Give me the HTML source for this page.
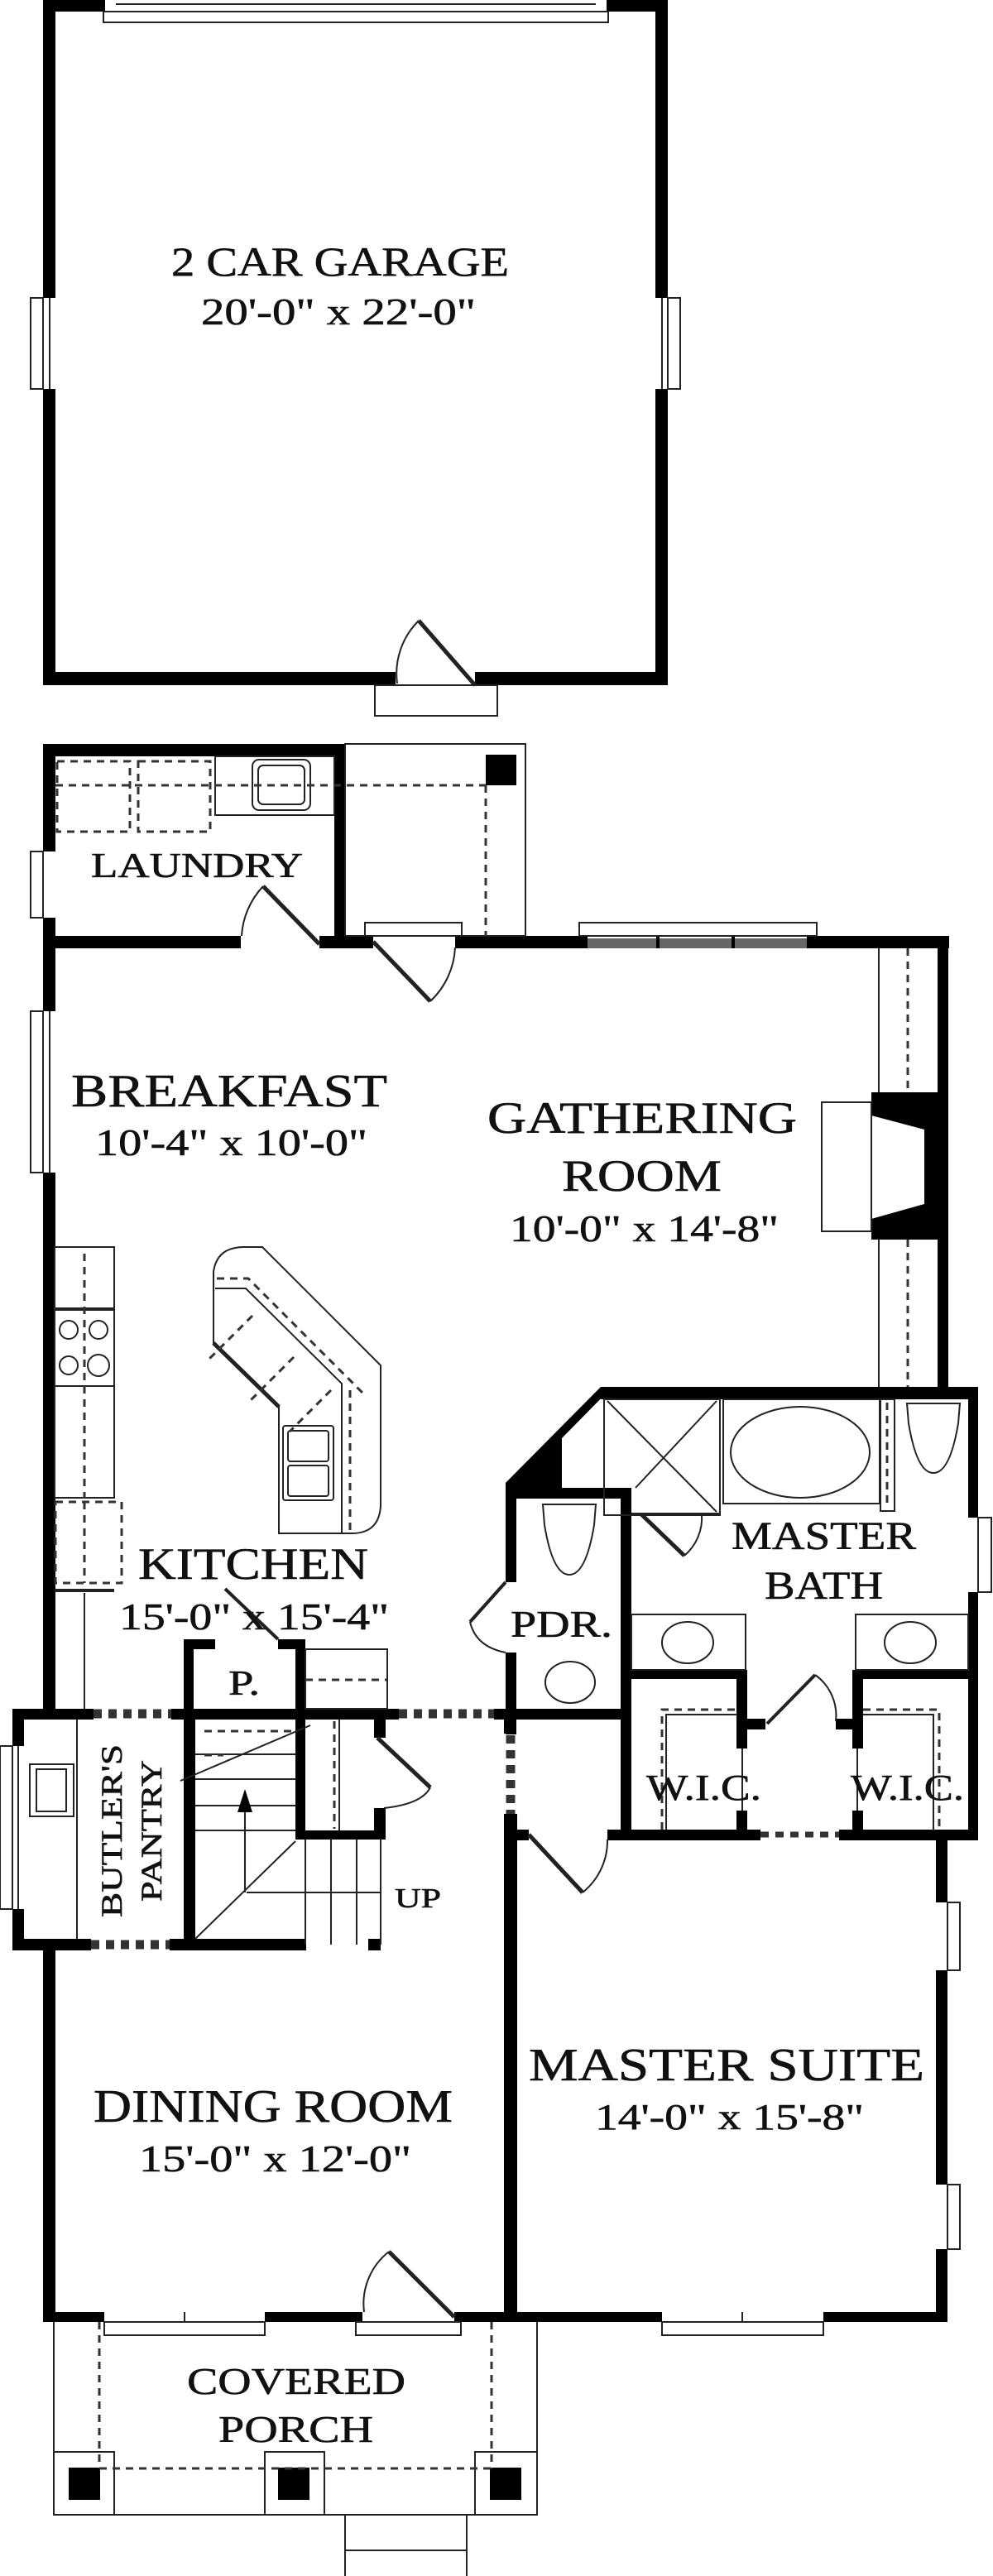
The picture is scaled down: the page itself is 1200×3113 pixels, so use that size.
<!DOCTYPE html>
<html><head><meta charset="utf-8"><style>
html,body{margin:0;padding:0;background:#fff;}
svg{display:block;}
text{font-family:"Liberation Serif",serif;fill:#111;stroke:#111;stroke-width:0.6;}
</style></head><body>
<svg width="1200" height="3113" viewBox="0 0 1200 3113" xmlns="http://www.w3.org/2000/svg">
<rect width="1200" height="3113" fill="#fff"/>
<g fill="#000" stroke="none">
<rect x="52" y="0" width="15" height="360"/>
<rect x="52" y="470" width="15" height="358"/>
<rect x="792" y="0" width="15" height="360"/>
<rect x="792" y="470" width="15" height="358"/>
<rect x="52" y="0" width="75" height="14"/>
<rect x="733" y="0" width="74" height="14"/>
<rect x="52" y="812" width="426" height="16"/>
<rect x="574" y="812" width="233" height="16"/>
<rect x="52" y="899" width="365" height="15"/>
<rect x="52" y="899" width="15" height="130"/>
<rect x="52" y="1109" width="15" height="37"/>
<rect x="404" y="899" width="14" height="247"/>
<rect x="52" y="1131" width="239" height="15"/>
<rect x="386" y="1131" width="65" height="15"/>
<rect x="550" y="1131" width="160" height="15"/>
<rect x="975" y="1131" width="172" height="15"/>
<rect x="710" y="1134" width="265" height="12" fill="#666"/>
<rect x="793" y="1131" width="4" height="15"/>
<rect x="884" y="1131" width="4" height="15"/>
<rect x="52" y="1146" width="15" height="76"/>
<rect x="52" y="1417" width="15" height="660"/>
<rect x="1133" y="1131" width="13" height="560"/>
<polygon points="1053,1320 1146,1320 1146,1498 1053,1498 1053,1473 1117,1455 1117,1365 1053,1348"/>
<rect x="726" y="1676" width="456" height="15"/>
<rect x="1170" y="1676" width="12" height="158"/>
<rect x="1170" y="1924" width="12" height="300"/>
<polygon points="726,1676 740,1676 679,1738 679,1798 624,1798 624,1912 611,1912 611,1792"/>
<rect x="611" y="1798" width="152" height="13"/>
<rect x="750" y="1798" width="13" height="425"/>
<rect x="611" y="1997" width="13" height="99"/>
<rect x="763" y="2018" width="140" height="11"/>
<rect x="1032" y="2018" width="150" height="11"/>
<rect x="890" y="2018" width="13" height="95"/>
<rect x="890" y="2188" width="13" height="25"/>
<rect x="1030" y="2018" width="13" height="95"/>
<rect x="1030" y="2188" width="13" height="25"/>
<rect x="903" y="2077" width="22" height="13"/>
<rect x="1010" y="2077" width="20" height="13"/>
<rect x="734" y="2211" width="185" height="13"/>
<rect x="1014" y="2211" width="168" height="13"/>
<rect x="15" y="2065" width="98" height="13"/>
<rect x="207" y="2065" width="275" height="13"/>
<rect x="597" y="2065" width="166" height="13"/>
<rect x="222" y="1981" width="12" height="90"/>
<rect x="222" y="1981" width="38" height="12"/>
<rect x="336" y="1981" width="33" height="12"/>
<rect x="357" y="1981" width="12" height="242"/>
<rect x="15" y="2065" width="14" height="45"/>
<rect x="15" y="2307" width="14" height="50"/>
<rect x="15" y="2343" width="95" height="14"/>
<rect x="205" y="2343" width="165" height="14"/>
<rect x="222" y="2065" width="14" height="292"/>
<rect x="357" y="2212" width="109" height="11"/>
<rect x="452" y="2065" width="14" height="35"/>
<rect x="452" y="2185" width="14" height="38"/>
<rect x="445" y="2343" width="15" height="14"/>
<rect x="609" y="2065" width="15" height="30"/>
<rect x="52" y="2343" width="15" height="463"/>
<rect x="609" y="2192" width="16" height="614"/>
<rect x="624" y="2211" width="15" height="13"/>
<rect x="52" y="2794" width="74" height="12"/>
<rect x="320" y="2794" width="118" height="12"/>
<rect x="549" y="2794" width="251" height="12"/>
<rect x="995" y="2794" width="150" height="12"/>
<rect x="1131" y="2211" width="14" height="88"/>
<rect x="1131" y="2381" width="14" height="259"/>
<rect x="1131" y="2718" width="14" height="88"/>
<rect x="587" y="912" width="37" height="37"/>
<rect x="83" y="2982" width="38" height="39"/>
<rect x="336" y="2982" width="38" height="39"/>
<rect x="592" y="2982" width="38" height="39"/>
</g>

<g fill="none" stroke="#222" stroke-width="2">
<rect x="125" y="14" width="610" height="13"/>
<line x1="140" y1="5" x2="720" y2="5"/>
<rect x="37" y="360" width="15" height="110"/>
<rect x="807" y="360" width="15" height="110"/>
<line x1="60" y1="360" x2="60" y2="470"/>
<line x1="800" y1="360" x2="800" y2="470"/>
<rect x="453" y="828" width="148" height="37"/>
<line x1="574" y1="828" x2="506" y2="750" stroke-width="5"/>
<path d="M506,750 A90,90 0 0 0 480,826"/>
<rect x="37" y="1029" width="15" height="80"/>
<rect x="260" y="914" width="144" height="71"/>
<rect x="305" y="918" width="70" height="61" rx="8"/>
<rect x="312" y="925" width="56" height="47" rx="6"/>
<rect x="417" y="899" width="218" height="232"/>
<line x1="386" y1="1141" x2="318" y2="1071" stroke-width="5"/>
<path d="M318,1071 A95,95 0 0 0 292,1131"/>
<line x1="451" y1="1138" x2="520" y2="1210" stroke-width="5"/>
<path d="M520,1210 A95,95 0 0 0 550,1145"/>
<rect x="441" y="1115" width="117" height="16"/>
<rect x="700" y="1115" width="287" height="16"/>
<rect x="37" y="1222" width="15" height="195"/>
<line x1="60" y1="1222" x2="60" y2="1417"/>
<line x1="1062" y1="1146" x2="1062" y2="1320"/>
<line x1="1062" y1="1498" x2="1062" y2="1676"/>
<rect x="993" y="1332" width="60" height="156"/>
<rect x="66" y="1507" width="72" height="303"/>
<line x1="66" y1="1582" x2="138" y2="1582" stroke-width="4"/>
<line x1="66" y1="1675" x2="138" y2="1675"/>
<circle cx="83" cy="1607" r="11"/><circle cx="119" cy="1607" r="11"/>
<circle cx="83" cy="1650" r="11"/><circle cx="119" cy="1650" r="13"/>
<line x1="66" y1="1922" x2="138" y2="1922" stroke-width="4"/>
<line x1="102" y1="1925" x2="102" y2="2065"/>
<path d="M258,1537 Q262,1507 295,1507 L317,1507 L460,1650 L460,1820 Q458,1852 427,1853 L337,1853 L337,1700 L258,1623 Z"/>
<path d="M260,1557 L297,1557 L413,1672 L413,1853"/>
<line x1="258" y1="1623" x2="337" y2="1700" stroke-width="5"/>
<rect x="342" y="1723" width="61" height="90" rx="3"/>
<rect x="348" y="1729" width="49" height="37" rx="3"/>
<rect x="348" y="1771" width="49" height="37" rx="3"/>
<rect x="730" y="1691" width="140" height="140"/>
<line x1="734" y1="1693" x2="866" y2="1827"/>
<line x1="866" y1="1693" x2="768" y2="1798"/>
<line x1="763" y1="1829" x2="870" y2="1829"/>
<line x1="775" y1="1830" x2="827" y2="1880" stroke-width="5"/>
<path d="M827,1880 A60,60 0 0 0 848,1830"/>
<rect x="874" y="1691" width="189" height="126"/>
<ellipse cx="967" cy="1755" rx="84" ry="55"/>
<rect x="1064" y="1691" width="17" height="135"/>
<path d="M1096,1696 L1160,1696 L1158,1720 Q1148,1780 1128,1780 Q1108,1780 1098,1720 Z"/>
<path d="M656,1818 L720,1818 L718,1843 Q708,1903 688,1903 Q668,1903 658,1843 Z"/>
<ellipse cx="689" cy="2033" rx="30" ry="25"/>
<rect x="763" y="1951" width="138" height="67"/>
<ellipse cx="831" cy="1985" rx="31" ry="25"/>
<rect x="1034" y="1951" width="136" height="67"/>
<ellipse cx="1100" cy="1985" rx="31" ry="25"/>
<rect x="1182" y="1834" width="16" height="90"/>
<line x1="927" y1="2083" x2="985" y2="2024" stroke-width="4"/>
<path d="M985,2024 A60,60 0 0 1 1010,2080"/>
<line x1="897" y1="2113" x2="897" y2="2188"/>
<line x1="1036" y1="2113" x2="1036" y2="2188"/>
<path d="M805,2211 L805,2072 L890,2072"/>
<path d="M1043,2072 L1128,2072 L1128,2211"/>
<line x1="611" y1="1912" x2="568" y2="1960" stroke-width="4"/>
<path d="M568,1960 Q575,1990 611,1997"/>
<line x1="272" y1="1920" x2="336" y2="1981" stroke-width="4"/>
<rect x="369" y="1993" width="99" height="72"/>
<rect x="0" y="2110" width="15" height="197"/>
<line x1="22" y1="2110" x2="22" y2="2307"/>
<line x1="93" y1="2078" x2="93" y2="2343"/>
<rect x="36" y="2132" width="53" height="63"/>
<rect x="44" y="2138" width="36" height="51"/>
<line x1="236" y1="2120" x2="357" y2="2120"/>
<line x1="236" y1="2150" x2="357" y2="2150"/>
<line x1="236" y1="2182" x2="357" y2="2182"/>
<line x1="236" y1="2212" x2="357" y2="2212"/>
<line x1="218" y1="2152" x2="375" y2="2085"/>
<line x1="296" y1="2287" x2="296" y2="2175"/>
<line x1="236" y1="2343" x2="357" y2="2225"/>
<line x1="298" y1="2287" x2="460" y2="2287"/>
<line x1="369" y1="2223" x2="369" y2="2350"/>
<line x1="400" y1="2223" x2="400" y2="2350"/>
<line x1="431" y1="2223" x2="431" y2="2350"/>
<line x1="460" y1="2223" x2="460" y2="2350"/>
<line x1="410" y1="2078" x2="410" y2="2212"/>
<line x1="456" y1="2100" x2="520" y2="2160" stroke-width="5"/>
<path d="M520,2160 Q510,2180 464,2185"/>
<line x1="639" y1="2217" x2="704" y2="2287" stroke-width="5"/>
<path d="M704,2287 A80,80 0 0 0 734,2223"/>
<rect x="1145" y="2299" width="15" height="82"/>
<rect x="1145" y="2640" width="15" height="78"/>
<rect x="800" y="2806" width="195" height="16"/>
<line x1="897" y1="2794" x2="897" y2="2806"/>
<rect x="126" y="2806" width="194" height="16"/>
<line x1="223" y1="2794" x2="223" y2="2806"/>
<rect x="430" y="2806" width="127" height="16"/>
<line x1="549" y1="2800" x2="470" y2="2721" stroke-width="5"/>
<path d="M470,2721 A80,80 0 0 0 440,2794"/>
<path d="M65,2806 L65,3039 L649,3039 L649,2806"/>
<rect x="65" y="2963" width="73" height="76"/>
<rect x="320" y="2963" width="72" height="76"/>
<rect x="574" y="2963" width="75" height="76"/>
<rect x="417" y="3039" width="147" height="80"/>
<line x1="417" y1="3082" x2="564" y2="3082"/>
</g>

<g fill="none" stroke="#333" stroke-width="3" stroke-dasharray="9,7">
<rect x="69" y="920" width="88" height="85"/>
<rect x="167" y="920" width="87" height="85"/>
<line x1="67" y1="949" x2="587" y2="949"/>
<line x1="587" y1="949" x2="587" y2="1131"/>
<line x1="1097" y1="1146" x2="1097" y2="1320"/>
<line x1="1097" y1="1498" x2="1097" y2="1676"/>
<line x1="102" y1="1515" x2="102" y2="1810"/>
<rect x="67" y="1815" width="80" height="98"/>
<line x1="102" y1="1815" x2="102" y2="1913"/>
<line x1="423" y1="1680" x2="423" y2="1850"/>
<path d="M262,1545 L300,1545 L440,1685"/>
<path d="M305,1590 L250,1645 M355,1640 L300,1695 M400,1680 L350,1730" />
<line x1="1072" y1="1695" x2="1072" y2="1822"/>
<line x1="369" y1="2030" x2="468" y2="2030"/>
<line x1="113" y1="2071" x2="207" y2="2071" stroke-width="11" stroke-dasharray="10,8"/>
<line x1="482" y1="2071" x2="597" y2="2071" stroke-width="11" stroke-dasharray="10,8"/>
<line x1="110" y1="2350" x2="205" y2="2350" stroke-width="11" stroke-dasharray="10,8"/>
<line x1="617" y1="2097" x2="617" y2="2192" stroke-width="11" stroke-dasharray="10,8"/>
<line x1="919" y1="2217" x2="1014" y2="2217" stroke-width="7" stroke-dasharray="10,8"/>
<line x1="247" y1="2092" x2="357" y2="2092"/>
<line x1="247" y1="2121" x2="270" y2="2121"/>
<line x1="404" y1="2080" x2="404" y2="2210"/>
<path d="M800,2211 L800,2066 L890,2066"/>
<path d="M1043,2066 L1135,2066 L1135,2211"/>
<line x1="120" y1="2806" x2="120" y2="2983"/>
<line x1="594" y1="2806" x2="594" y2="2983"/>
<line x1="120" y1="2983" x2="594" y2="2983"/>
</g>
<polygon points="296,2162 287,2190 305,2190" fill="#000"/>

<g text-anchor="start">
<text x="207" y="333" font-size="50" textLength="408" lengthAdjust="spacingAndGlyphs">2 CAR GARAGE</text>
<text x="243" y="392" font-size="46" textLength="332" lengthAdjust="spacingAndGlyphs">20'-0" x 22'-0"</text>
<text x="110" y="1060" font-size="42" textLength="256" lengthAdjust="spacingAndGlyphs">LAUNDRY</text>
<text x="86" y="1337" font-size="56" textLength="382" lengthAdjust="spacingAndGlyphs">BREAKFAST</text>
<text x="115" y="1396" font-size="46" textLength="329" lengthAdjust="spacingAndGlyphs">10'-4" x 10'-0"</text>
<text x="589" y="1369" font-size="54" textLength="374" lengthAdjust="spacingAndGlyphs">GATHERING</text>
<text x="679" y="1439" font-size="54" textLength="193" lengthAdjust="spacingAndGlyphs">ROOM</text>
<text x="616" y="1500" font-size="46" textLength="325" lengthAdjust="spacingAndGlyphs">10'-0" x 14'-8"</text>
<text x="167" y="1908" font-size="54" textLength="278" lengthAdjust="spacingAndGlyphs">KITCHEN</text>
<text x="144" y="1969" font-size="46" textLength="326" lengthAdjust="spacingAndGlyphs">15'-0" x 15'-4"</text>
<text x="884" y="1872" font-size="48" textLength="223" lengthAdjust="spacingAndGlyphs">MASTER</text>
<text x="924" y="1932" font-size="48" textLength="143" lengthAdjust="spacingAndGlyphs">BATH</text>
<text x="617" y="1978" font-size="46" textLength="123" lengthAdjust="spacingAndGlyphs">PDR.</text>
<text x="276" y="2048" font-size="42" textLength="38" lengthAdjust="spacingAndGlyphs">P.</text>
<text x="781" y="2175" font-size="44" textLength="139" lengthAdjust="spacingAndGlyphs">W.I.C.</text>
<text x="1028" y="2175" font-size="44" textLength="137" lengthAdjust="spacingAndGlyphs">W.I.C.</text>
<text x="477" y="2305" font-size="34" textLength="56" lengthAdjust="spacingAndGlyphs">UP</text>
<text x="639" y="2514" font-size="56" textLength="478" lengthAdjust="spacingAndGlyphs">MASTER SUITE</text>
<text x="719" y="2573" font-size="44" textLength="325" lengthAdjust="spacingAndGlyphs">14'-0" x 15'-8"</text>
<text x="113" y="2564" font-size="56" textLength="434" lengthAdjust="spacingAndGlyphs">DINING ROOM</text>
<text x="168" y="2624" font-size="46" textLength="329" lengthAdjust="spacingAndGlyphs">15'-0" x 12'-0"</text>
<text x="226" y="2893" font-size="46" textLength="264" lengthAdjust="spacingAndGlyphs">COVERED</text>
<text x="264" y="2951" font-size="46" textLength="187" lengthAdjust="spacingAndGlyphs">PORCH</text>
<text transform="translate(147,2317) rotate(-90)" font-size="36" textLength="209" lengthAdjust="spacingAndGlyphs">BUTLER'S</text>
<text transform="translate(195,2298) rotate(-90)" font-size="36" textLength="171" lengthAdjust="spacingAndGlyphs">PANTRY</text>
</g>
</svg>
</body></html>
